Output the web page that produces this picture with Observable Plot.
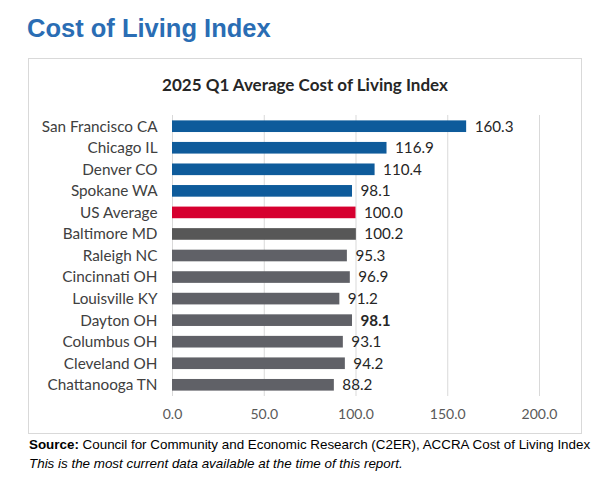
<!DOCTYPE html>
<html>
<head>
<meta charset="utf-8">
<script src="https://cdn.jsdelivr.net/npm/d3@7"></script>
<script src="https://cdn.jsdelivr.net/npm/@observablehq/plot@0.6"></script>
<style>
  html, body { margin: 0; padding: 0; background: #fff; }
  #page { position: relative; width: 598px; height: 492px; overflow: hidden; }
  #title { position: absolute; left: 27px; top: 14px; font: bold 25.5px "Liberation Sans", Arial, sans-serif; color: #2a6db4; }
  #box { position: absolute; left: 28px; top: 58px; width: 554px; height: 376px; border: 1px solid #d9d9d9; box-sizing: border-box; }
  #subtitle { position: absolute; left: 28px; top: 74px; width: 554px; text-align: center; font: bold 17px Lato, "Noto Sans", sans-serif; color: #262626; }
  #chart { position: absolute; left: 0; top: 0; }
  #source { position: absolute; left: 29px; top: 435px; font: 13.4px "Liberation Sans", Arial, sans-serif; color: #000; line-height: 19px; white-space: nowrap; }
</style>
</head>
<body>
<div id="page">
  <div id="title">Cost of Living Index</div>
  <div id="box"></div>
  <div id="subtitle">2025 Q1 Average Cost of Living Index</div>
  <div id="chart"></div>
  <div id="source"><b>Source:</b> Council for Community and Economic Research (C2ER), ACCRA Cost of Living Index<br><i>This is the most current data available at the time of this report.</i></div>
</div>
<script>
const cities = ["San Francisco CA", "Chicago IL", "Denver CO", "Spokane WA", "US Average", "Baltimore MD", "Raleigh NC", "Cincinnati OH", "Louisville KY", "Dayton OH", "Columbus OH", "Cleveland OH", "Chattanooga TN"];
const values = [160.3, 116.9, 110.4, 98.1, 100.0, 100.2, 95.3, 96.9, 91.2, 98.1, 93.1, 94.2, 88.2];
const groups = ["Comparison", "Comparison", "Comparison", "Comparison", "National", "Peer", "Regional", "Regional", "Regional", "Highlight", "Regional", "Regional", "Regional"];
const xTicks = [0, 50, 100, 150, 200];

const data = cities.map((c, i) => ({city: c, value: values[i], group: groups[i]}));
const plain = data.filter(d => d.group !== "Highlight");
const bold = data.filter(d => d.group === "Highlight");

const textOpts = {x: "value", y: "city", text: d => d.value.toFixed(1), dx: 8, textAnchor: "start", fill: "#262626", fontSize: 15.2, fontFamily: "Lato, sans-serif"};

const chart = Plot.plot({
  width: 598,
  height: 434,
  marginLeft: 172,
  marginRight: 59,
  marginTop: 115,
  marginBottom: 38,
  style: {background: "transparent", overflow: "visible"},
  x: {domain: [0, 200], label: null},
  y: {domain: cities, paddingInner: 0.46, paddingOuter: 0.25, round: false, label: null},
  color: {domain: ["Comparison", "National", "Peer", "Regional", "Highlight"], range: ["#0e5b9b", "#d6002f", "#575757", "#606167", "#606167"]},
  marks: [
    Plot.ruleX(xTicks, {stroke: "#d9d9d9", strokeWidth: 1}),
    Plot.barX(data, {x: "value", y: "city", fill: "group"}),
    Plot.text(plain, textOpts),
    Plot.text(bold, {...textOpts, fontWeight: "bold"}),
    Plot.axisX({ticks: xTicks, tickFormat: d => d.toFixed(1), tickSize: 0, tickPadding: 13, fontSize: 14, fontFamily: "Lato, sans-serif", color: "#595959", label: null}),
    Plot.axisY({tickSize: 0, tickPadding: 15, fontSize: 15.3, fontFamily: "Lato, sans-serif", color: "#404040", label: null})
  ]
});
document.getElementById("chart").appendChild(chart);
</script>
</body>
</html>
